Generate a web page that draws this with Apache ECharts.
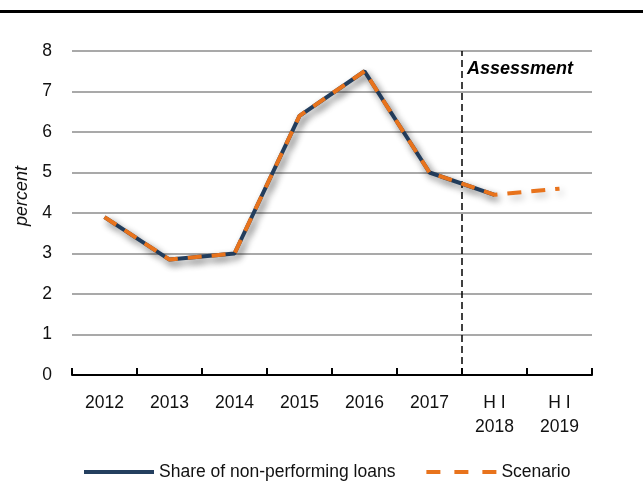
<!DOCTYPE html>
<html>
<head>
<meta charset="utf-8">
<script src="https://cdn.jsdelivr.net/npm/echarts@6/dist/echarts.min.js"></script>
<style>
  html, body { margin: 0; padding: 0; background: #fff; }
  #chart { width: 643px; height: 481px; }
</style>
</head>
<body>
<div id="chart"></div>
<script>
// Categories on the x axis (half-year labels wrap onto two lines)
const categories = ['2012', '2013', '2014', '2015', '2016', '2017', 'H I\n2018', 'H I\n2019'];
// Share of non-performing loans, percent
const nplShare = [3.9, 2.85, 3.0, 6.4, 7.5, 5.0, 4.45, null];
// Scenario path, percent
const scenario = [3.9, 2.85, 3.0, 6.4, 7.5, 5.0, 4.45, 4.6];
// Assessment period starts at this category boundary (boundary index)
const assessmentBoundary = 6;
const yTicks = { min: 0, max: 8, interval: 1 };

const FONT = "'Liberation Sans', Arial, sans-serif";
const NAVY = '#243f5f';
const ORANGE = '#e8731c';

const chart = echarts.init(document.getElementById('chart'), null, { renderer: 'canvas' });

chart.setOption({
  animation: false,
  backgroundColor: '#ffffff',
  textStyle: { fontFamily: FONT },
  grid: { left: 72, right: 51, top: 51, bottom: 106, containLabel: false },
  xAxis: [
    {
      type: 'category',
      data: categories,
      boundaryGap: true,
      axisLine: { lineStyle: { color: '#000', width: 2 } },
      axisTick: { show: true, inside: true, length: 7, lineStyle: { color: '#000', width: 2 } },
      axisLabel: { color: '#111', fontSize: 17.5, lineHeight: 24, margin: 16, fontFamily: FONT, interval: 0 },
      splitLine: { show: false }
    },
    {
      type: 'value',
      show: false,
      min: 0,
      max: categories.length
    }
  ],
  yAxis: {
    type: 'value',
    min: yTicks.min,
    max: yTicks.max,
    interval: yTicks.interval,
    axisLine: { show: false },
    axisTick: { show: false },
    axisLabel: { color: '#111', fontSize: 17.5, margin: 20, fontFamily: FONT },
    splitLine: { lineStyle: { color: '#8c8c8c', width: 1.5 } }
  },
  legend: {
    left: 79,
    top: 458,
    itemWidth: 70,
    itemHeight: 4,
    itemGap: 31,
    textStyle: { color: '#111', fontSize: 17.5, fontFamily: FONT },
    data: [
      { name: 'Share of non-performing loans', icon: 'path://M0,0H70V4H0Z' },
      { name: 'Scenario', icon: 'path://M0,0H14V4H0ZM28,0H42V4H28ZM56,0H70V4H56Z' }
    ]
  },
  series: [
    {
      name: 'Share of non-performing loans',
      type: 'line',
      data: nplShare,
      symbol: 'none',
      silent: true,
      lineStyle: {
        color: NAVY, width: 4,
        shadowColor: 'rgba(0,0,0,0.45)', shadowBlur: 7, shadowOffsetX: 3, shadowOffsetY: 4
      },
      itemStyle: { color: NAVY },
      z: 3
    },
    {
      name: 'Scenario',
      type: 'line',
      data: scenario,
      symbol: 'none',
      silent: true,
      lineStyle: {
        color: ORANGE, width: 4, type: [14, 10],
        shadowColor: 'rgba(0,0,0,0.25)', shadowBlur: 7, shadowOffsetX: 3, shadowOffsetY: 4
      },
      itemStyle: { color: ORANGE },
      z: 4
    },
    {
      name: 'assessment-divider',
      type: 'line',
      xAxisIndex: 1,
      data: [[assessmentBoundary, yTicks.min], [assessmentBoundary, yTicks.max]],
      symbol: 'none',
      silent: true,
      lineStyle: { color: '#000', width: 1.5, type: [7, 4] },
      z: 2
    }
  ],
  graphic: [
    {
      type: 'line',
      shape: { x1: 0, y1: 11.5, x2: 643, y2: 11.5 },
      style: { stroke: '#000', lineWidth: 3 },
      silent: true
    },
    {
      type: 'text',
      x: 22,
      y: 196,
      rotation: Math.PI / 2,
      style: {
        text: 'percent',
        font: 'italic 18px ' + FONT,
        fill: '#111',
        align: 'center',
        verticalAlign: 'middle'
      },
      silent: true
    },
    {
      type: 'text',
      x: 467,
      y: 69,
      style: {
        text: 'Assessment',
        font: 'italic bold 18px ' + FONT,
        fill: '#000',
        align: 'left',
        verticalAlign: 'middle'
      },
      silent: true
    }
  ]
});
</script>
</body>
</html>
